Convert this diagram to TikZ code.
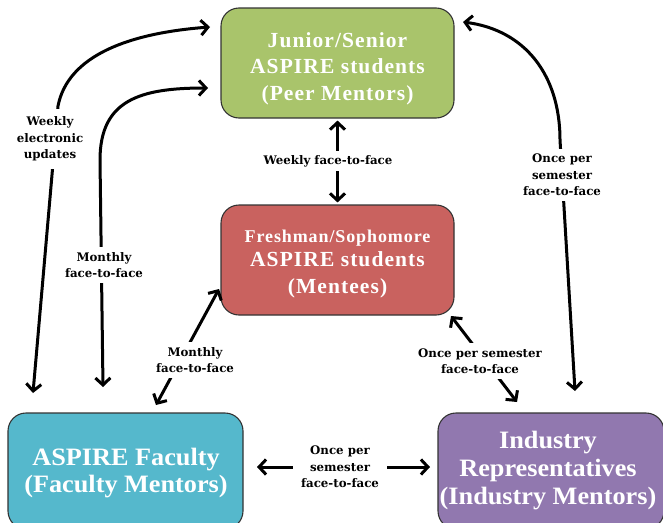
\documentclass[tikz,border=0pt]{standalone}
\usepackage{fontspec}
\setmainfont{Liberation Serif}
\newfontfamily\spacedfont[LetterSpace=5]{Liberation Serif}
\newfontfamily\widefont[FakeStretch=1.05]{Liberation Serif}
\newfontfamily\labelfont{DejaVu Serif}
\usetikzlibrary{arrows.meta}

\definecolor{peergreen}{HTML}{A9C46B}
\definecolor{menteered}{HTML}{C9625F}
\definecolor{facultyblue}{HTML}{55B8CC}
\definecolor{industrypurple}{HTML}{9178AF}

\begin{document}
\begin{tikzpicture}[x=1pt,y=-1pt]
		\tikzset{group/.style={draw=black!80, line width=1.1pt, rounded corners=18pt, inner sep=0pt}}
		\tikzset{groupname/.style={text=white, align=center, inner sep=0pt}}
		\tikzset{link/.style={line width=3pt, {Straight Barb[length=7pt,width=15pt]}-{Straight Barb[length=7pt,width=15pt]}}}
		\tikzset{freq/.style={fill=white, align=center, font=\labelfont\bfseries\fontsize{11.8}{16.5}\selectfont, inner xsep=2pt}}
		\clip (0,0) rectangle (663,522);
		\useasboundingbox (0,0) rectangle (663,522);
		% the four groups of mentors and mentees
		\node[group, fill=peergreen, minimum width=233pt, minimum height=110pt] (peer) at (337.5,63) {};
		\node[group, fill=menteered, minimum width=233pt, minimum height=110pt] (mentee) at (337.5,260) {};
		\node[group, fill=facultyblue, minimum width=235pt, minimum height=116pt] (faculty) at (125.5,471) {};
		\node[group, fill=industrypurple, minimum width=226pt, minimum height=116pt] (industry) at (551,471) {};
		\node[groupname, font=\spacedfont\bfseries\fontsize{21.5}{26.5}\selectfont] (peer-name) at (337.5,68.5)
			{Junior/Senior\\ASPIRE students\\(Peer Mentors)};
		\node[groupname, font=\spacedfont\bfseries\fontsize{21.5}{26.5}\selectfont] (mentee-name) at (337.5,264)
			{{\fontsize{18}{20}\selectfont Freshman/Sophomore}\\[-2pt]ASPIRE students\\(Mentees)};
		\node[groupname, font=\widefont\bfseries\fontsize{25}{27}\selectfont] (faculty-name) at (126,473)
			{ASPIRE Faculty\\(Faculty Mentors)};
		\node[groupname, font=\widefont\bfseries\fontsize{25}{28}\selectfont] (industry-name) at (548,471)
			{Industry\\Representatives\\(Industry Mentors)};
		\coordinate (upd-f) at (33,393);
		\coordinate (upd-p) at (210,27);
		\coordinate (mon-f) at (103,387);
		\coordinate (mon-p) at (208,88);
		\coordinate (sem-i) at (575,391);
		\coordinate (sem-p) at (463,22);
		\coordinate (mon-m) at (219,289);
		\coordinate (mon-fac) at (156,405);
		\coordinate (sem-m) at (451,316);
		\coordinate (sem-ind) at (517,402);
		\coordinate (sem-fl) at (257,467);
		\coordinate (sem-ir) at (430,467);
		\draw[link] (upd-f) -- (58,106) .. controls (68,55) and (130,33) .. (upd-p);
		\node[freq, inner ysep=8pt] at (50,139) {Weekly\\electronic\\updates};
		\draw[link] (mon-f) -- (100,160) .. controls (100,100) and (140,88) .. (mon-p);
		\node[freq, inner ysep=5pt] at (104,265) {Monthly\\face-to-face};
		\draw[link] (sem-i) -- (560,140) .. controls (560,75) and (525,30) .. (sem-p);
		\node[freq, inner ysep=5pt] at (562,175) {Once per\\semester\\face-to-face};
		\draw[link, shorten <=2pt, shorten >=2pt] (peer.south) -- (mentee.north);
		\node[freq, inner ysep=4pt] at (328,161) {Weekly face-to-face};
		\draw[link] (mon-m) -- (mon-fac);
		\node[freq, inner ysep=5pt] at (195,360) {Monthly\\face-to-face};
		\draw[link] (sem-m) -- (sem-ind);
		\node[freq, inner ysep=5pt] at (480,361) {Once per semester\\face-to-face};
		\draw[link] (sem-fl) -- (sem-ir);
		\node[freq, inner ysep=3pt, inner xsep=8pt] at (340,467) {Once per\\semester\\face-to-face};
\end{tikzpicture}
\end{document}
